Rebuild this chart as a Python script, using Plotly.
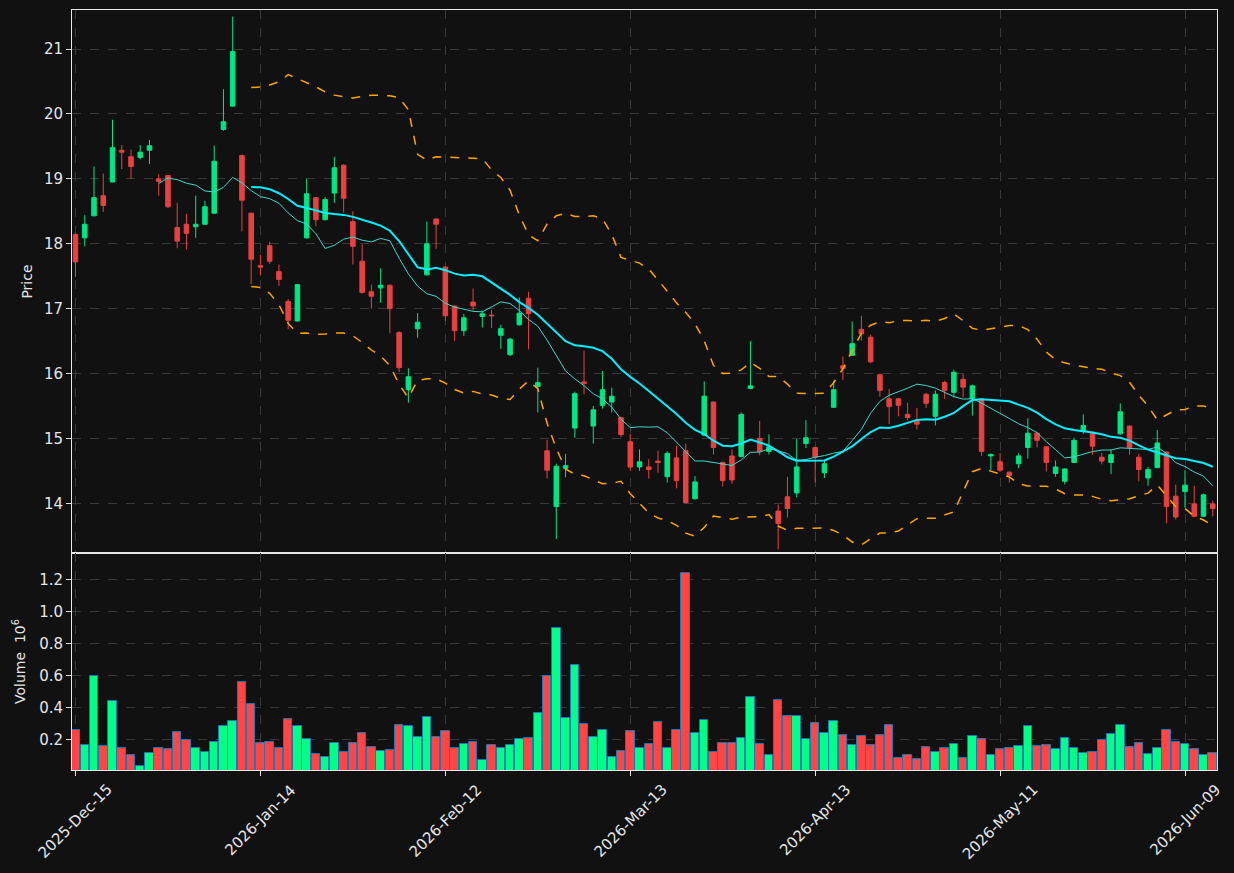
import pandas as pd
import numpy as np
import plotly.graph_objects as go

# ---------------- data ----------------
holidays = ["2025-12-25", "2026-01-01", "2026-01-19", "2026-02-16", "2026-04-03", "2026-05-25"]
dates = pd.bdate_range("2025-12-15", periods=130, freq="C", holidays=holidays)[:124]

opens = [18.14, 18.09, 18.43, 18.74, 18.95, 19.44, 19.34, 19.33, 19.44, 19.00,
         19.05, 18.25, 18.30, 18.26, 18.30, 18.47, 19.76, 20.12, 19.36, 18.47,
         17.66, 17.97, 17.57, 17.11, 16.81, 18.09, 18.71, 18.37, 18.78, 19.21,
         18.34, 17.73, 17.26, 17.32, 17.36, 16.63, 15.75, 16.69, 17.52, 18.38,
         17.64, 17.04, 16.66, 17.10, 16.88, 16.90, 16.59, 16.29, 16.75, 17.16,
         15.80, 14.81, 13.95, 14.54, 15.16, 15.87, 15.19, 15.51, 15.56, 15.32,
         14.95, 14.56, 14.56, 14.65, 14.41, 14.70, 14.81, 14.07, 15.05, 15.56,
         14.63, 14.73, 14.72, 15.77, 15.00, 14.80, 13.88, 14.10, 14.16, 14.92,
         14.86, 14.47, 15.48, 16.12, 16.28, 16.68, 16.56, 15.98, 15.61, 15.61,
         15.37, 15.27, 15.68, 15.34, 15.86, 15.71, 15.91, 15.61, 15.61, 14.73,
         14.64, 14.48, 14.61, 14.86, 15.08, 14.87, 14.46, 14.34, 14.63, 15.11,
         15.08, 14.71, 14.63, 15.07, 15.19, 14.71, 14.39, 14.55, 14.79, 14.11,
         14.18, 13.99, 13.80, 13.99]
highs = [18.16, 18.44, 19.19, 19.08, 19.91, 19.52, 19.45, 19.52, 19.60, 19.07,
         19.06, 18.63, 18.46, 18.74, 18.66, 19.51, 20.38, 21.50, 19.37, 18.48,
         17.83, 18.03, 17.68, 17.15, 17.38, 19.00, 18.72, 18.72, 19.34, 19.22,
         18.50, 17.99, 17.37, 17.62, 17.37, 16.65, 16.08, 16.93, 18.34, 18.39,
         17.65, 17.05, 16.92, 17.31, 16.97, 16.98, 16.75, 16.55, 17.17, 17.26,
         16.09, 14.98, 14.61, 14.76, 15.72, 16.35, 15.50, 16.04, 15.78, 15.33,
         15.07, 14.83, 14.68, 14.81, 14.80, 14.89, 14.92, 14.42, 15.88, 15.57,
         14.64, 14.83, 15.40, 16.50, 15.27, 15.06, 13.98, 14.41, 14.99, 15.28,
         14.87, 14.66, 15.89, 16.26, 16.80, 16.89, 16.60, 16.00, 15.76, 15.62,
         15.55, 15.47, 15.70, 15.74, 15.89, 16.06, 16.00, 15.83, 15.62, 14.77,
         14.77, 14.49, 14.77, 15.31, 15.09, 14.88, 14.66, 14.54, 15.01, 15.37,
         15.11, 14.78, 14.83, 15.54, 15.20, 14.76, 14.56, 15.13, 14.80, 14.29,
         14.51, 14.27, 14.15, 14.04]
lows = [17.49, 17.96, 18.42, 18.49, 18.95, 19.15, 19.00, 19.30, 19.23, 18.74,
        18.55, 17.93, 17.91, 18.09, 18.29, 18.46, 19.74, 20.11, 18.19, 17.38,
        17.51, 17.69, 17.35, 16.68, 16.80, 18.08, 18.27, 18.36, 18.63, 18.48,
        17.68, 17.23, 17.00, 17.09, 16.62, 16.02, 15.55, 16.55, 17.51, 17.92,
        16.81, 16.50, 16.58, 16.97, 16.71, 16.70, 16.38, 16.27, 16.74, 16.37,
        15.40, 14.38, 13.45, 14.40, 15.01, 15.68, 14.92, 15.46, 15.40, 15.02,
        14.50, 14.50, 14.38, 14.47, 14.32, 14.23, 14.00, 14.06, 15.04, 14.75,
        14.26, 14.30, 14.71, 15.76, 14.74, 14.75, 13.29, 13.78, 14.09, 14.85,
        14.32, 14.39, 15.47, 15.90, 16.27, 16.51, 16.16, 15.64, 15.22, 15.34,
        15.28, 15.14, 15.47, 15.20, 15.61, 15.63, 15.63, 15.35, 14.73, 14.51,
        14.48, 14.32, 14.54, 14.69, 14.86, 14.49, 14.41, 14.29, 14.62, 15.07,
        14.75, 14.60, 14.45, 15.06, 14.75, 14.34, 14.27, 14.54, 13.69, 13.75,
        13.93, 13.79, 13.79, 13.80]
closes = [17.72, 18.30, 18.71, 18.59, 19.48, 19.41, 19.19, 19.41, 19.51, 18.96,
          18.57, 18.04, 18.16, 18.30, 18.57, 19.27, 19.88, 20.96, 18.67, 17.76,
          17.64, 17.73, 17.45, 16.82, 17.37, 18.77, 18.37, 18.68, 19.17, 18.70,
          17.96, 17.25, 17.19, 17.36, 17.00, 16.09, 15.95, 16.79, 18.00, 18.30,
          16.89, 16.66, 16.86, 17.04, 16.92, 16.89, 16.69, 16.53, 16.93, 16.92,
          15.86, 14.51, 14.57, 14.58, 15.69, 15.85, 15.44, 15.75, 15.65, 15.06,
          14.56, 14.64, 14.52, 14.63, 14.77, 14.35, 14.01, 14.33, 15.65, 14.86,
          14.35, 14.36, 15.37, 15.81, 14.80, 14.87, 13.69, 13.92, 14.56, 15.01,
          14.71, 14.61, 15.75, 16.08, 16.46, 16.61, 16.18, 15.74, 15.49, 15.51,
          15.32, 15.22, 15.54, 15.68, 15.74, 16.02, 15.79, 15.81, 14.80, 14.75,
          14.51, 14.43, 14.73, 15.08, 14.97, 14.63, 14.56, 14.53, 14.97, 15.20,
          14.88, 14.65, 14.75, 15.41, 14.86, 14.52, 14.52, 14.93, 13.95, 13.79,
          14.28, 13.80, 14.13, 13.92]
volumes_m = [0.256, 0.1625, 0.598, 0.156, 0.4375, 0.144, 0.10, 0.031, 0.1125, 0.144,
             0.1375, 0.244, 0.194, 0.144, 0.119, 0.181, 0.281, 0.3125, 0.556, 0.419,
             0.175, 0.181, 0.144, 0.325, 0.281, 0.20, 0.106, 0.0875, 0.175, 0.119,
             0.175, 0.2375, 0.15, 0.125, 0.131, 0.2875, 0.281, 0.2125, 0.3375, 0.2125,
             0.25, 0.144, 0.169, 0.181, 0.069, 0.1625, 0.144, 0.1625, 0.20, 0.206,
             0.3625, 0.594, 0.894, 0.331, 0.6625, 0.294, 0.2125, 0.256, 0.0875, 0.125,
             0.25, 0.144, 0.169, 0.306, 0.144, 0.256, 1.2375, 0.2375, 0.319, 0.119,
             0.175, 0.175, 0.206, 0.4625, 0.169, 0.10, 0.444, 0.344, 0.344, 0.20,
             0.30, 0.2375, 0.3125, 0.225, 0.1625, 0.219, 0.1625, 0.225, 0.2875, 0.081,
             0.10, 0.075, 0.15, 0.119, 0.144, 0.169, 0.081, 0.219, 0.20, 0.10,
             0.1375, 0.144, 0.156, 0.281, 0.156, 0.1625, 0.1375, 0.206, 0.144, 0.1125,
             0.119, 0.194, 0.231, 0.2875, 0.15, 0.175, 0.106, 0.144, 0.256, 0.181,
             0.169, 0.1375, 0.10, 0.1125]

tick_idx = list(range(0, 124, 20))
tick_text = [dates[i].strftime("%Y-%b-%d") for i in tick_idx]

# ---------------- indicators ----------------
close_s = pd.Series(closes)
ma10 = close_s.rolling(10).mean()
ma20 = close_s.rolling(20).mean()
sd20 = close_s.rolling(20).std(ddof=0)
bb_up = ma20 + 2 * sd20
bb_lo = ma20 - 2 * sd20

# ---------------- styles ----------------
BG = "#111111"
UP_C = "#00e586"
DN_C = "#e84142"
UP_V = "#00ff88"
DN_V = "#ff4545"
GRID = "#3a3a3a"
FRAME = "#e6e6e6"
TXT = "#e6e6e6"
FONT = "DejaVu Sans"

x = list(range(len(closes)))
vol_colors = [UP_V if c >= o else DN_V for o, c in zip(opens, closes)]

fig = go.Figure()
fig.add_trace(go.Candlestick(
    x=x, open=opens, high=highs, low=lows, close=closes,
    increasing=dict(line=dict(color=UP_C, width=1), fillcolor=UP_C),
    decreasing=dict(line=dict(color=DN_C, width=1), fillcolor=DN_C),
    whiskerwidth=0, xaxis="x", yaxis="y", showlegend=False))
fig.add_trace(go.Scatter(x=x, y=ma10, mode="lines", line=dict(color="#3fd9cc", width=1),
                         xaxis="x", yaxis="y", showlegend=False))
fig.add_trace(go.Scatter(x=x, y=ma20, mode="lines", line=dict(color="#00f0ff", width=2),
                         xaxis="x", yaxis="y", showlegend=False))
fig.add_trace(go.Scatter(x=x, y=bb_up, mode="lines", line=dict(color="#ffa500", width=1.5, dash="dash"),
                         xaxis="x", yaxis="y", showlegend=False))
fig.add_trace(go.Scatter(x=x, y=bb_lo, mode="lines", line=dict(color="#ffa500", width=1.5, dash="dash"),
                         xaxis="x", yaxis="y", showlegend=False))
fig.add_trace(go.Bar(x=x, y=volumes_m, marker=dict(color=vol_colors, line=dict(color="#1f77b4", width=1)),
                     width=0.92, xaxis="x2", yaxis="y2", showlegend=False))

xr = [-0.38, 123.46]
axis_common = dict(showline=True, mirror=True, linecolor=FRAME, linewidth=1,
                   gridcolor=GRID, griddash="dash", gridwidth=1, zeroline=False,
                   ticks="outside", ticklen=5, tickcolor=FRAME, automargin=False,
                   tickfont=dict(family=FONT, size=15, color=TXT))

# rotated, centred date labels (as annotations so they centre on the tick)
annotations = [
    dict(x=i, y=0, xref="x2", yref="paper", text=t, textangle=-45, showarrow=False,
         xanchor="center", yanchor="top", yshift=-8,
         font=dict(family=FONT, size=15, color=TXT))
    for i, t in zip(tick_idx, tick_text)
]

fig.update_layout(
    width=1234, height=873,
    paper_bgcolor=BG, plot_bgcolor=BG,
    margin=dict(l=72, r=17, t=10, b=103),
    font=dict(family=FONT, size=14, color=TXT),
    bargap=0,
    annotations=annotations,
    xaxis=dict(domain=[0, 1], anchor="y", range=xr, tickvals=tick_idx,
               showticklabels=False, rangeslider=dict(visible=False), **axis_common),
    yaxis=dict(domain=[0.2855, 1], anchor="x", range=[13.234, 21.601], dtick=1,
               title=dict(text="Price", font=dict(family=FONT, size=14, color=TXT), standoff=7),
               **axis_common),
    xaxis2=dict(domain=[0, 1], anchor="y2", range=xr, tickvals=tick_idx,
                showticklabels=False, matches="x", **axis_common),
    yaxis2=dict(domain=[0, 0.2855], anchor="x2", range=[0.008, 1.364],
                tickvals=[0.2, 0.4, 0.6, 0.8, 1.0, 1.2], tickformat=".1f",
                title=dict(text="Volume  10<sup>6</sup>", font=dict(family=FONT, size=14, color=TXT), standoff=10),
                **axis_common),
)

fig.write_html("out.html")
